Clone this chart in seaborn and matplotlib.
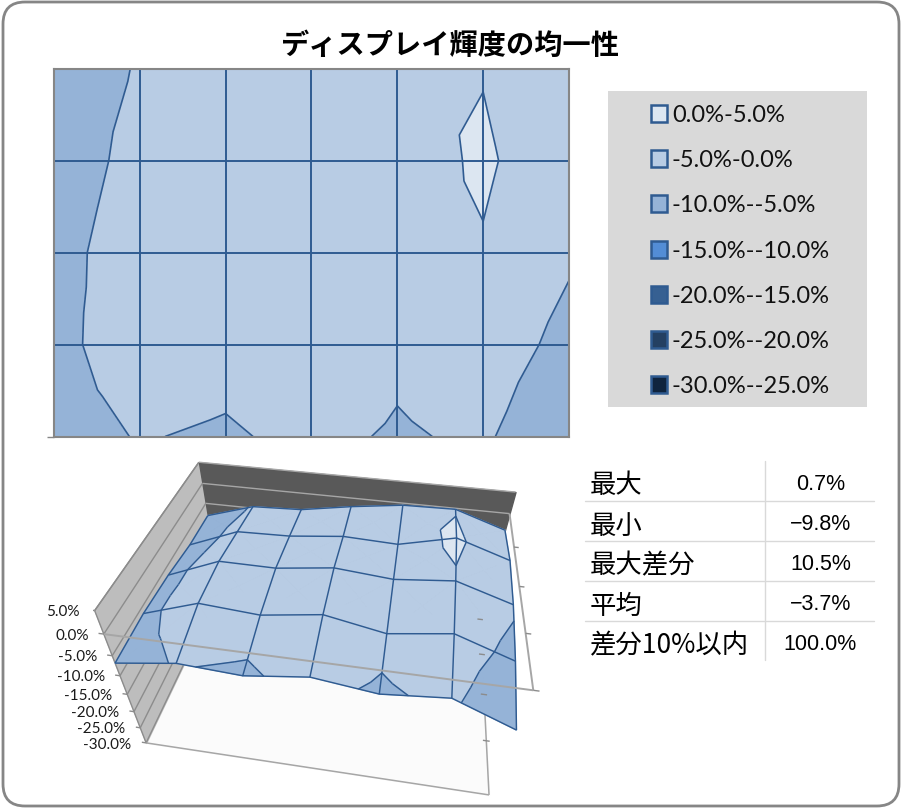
"""ディスプレイ輝度の均一性: 等高線図と3Dサーフェス."""

import matplotlib

matplotlib.use("Agg")
import matplotlib.pyplot as plt
import matplotlib.tri as mtri
import numpy as np
import seaborn as sns
from matplotlib.patches import FancyBboxPatch, Rectangle
from mpl_toolkits.mplot3d import proj3d
from mpl_toolkits.mplot3d.art3d import Line3DCollection, Poly3DCollection

TITLE = "ディスプレイ輝度の均一性"

# 輝度の偏差 (%), 上が画面の上端, 左が画面の左端
ROW_0 = [-8.2, -4.6, -4.1, -2.1, -0.5, -0.24, -4.06]
ROW_1 = [-8.0, -3.3, -3.0, -1.7, -2.2, 0.7, -3.2]
ROW_2 = [-6.9, -2.0, -2.1, -0.5, -1.6, -0.36, -4.3]
ROW_3 = [-6.4, -2.2, -3.2, -1.3, -3.9, -2.0, -6.6]
ROW_4 = [-6.8, -4.75, -5.6, -3.72, -5.55, -4.2, -9.8]

LEVELS = [-30, -25, -20, -15, -10, -5, 0, 5]
BAND_COLORS = ["#0f243e", "#244062", "#366092", "#538dd5", "#95b3d7", "#b8cce4", "#dce6f1"]
LEGEND_LABELS = [
    "0.0%-5.0%",
    "-5.0%-0.0%",
    "-10.0%--5.0%",
    "-15.0%--10.0%",
    "-20.0%--15.0%",
    "-25.0%--20.0%",
    "-30.0%--25.0%",
]
Z_TICKS = [5, 0, -5, -10, -15, -20, -25, -30]

STAT_NAMES = ["最大", "最小", "最大差分", "平均", "差分10%以内"]
STAT_VALUES = ["0.7%", "−9.8%", "10.5%", "−3.7%", "100.0%"]

LINE = "#2f5b91"
EDGE = "#a6a6a6"
W, H = 903, 812


def build_triangles(z):
    """各セルを中心点で4つの三角形に分ける (Excel の等高線と同じ折れ方になる)."""
    rows, cols = z.shape
    xs, ys, zs = [], [], []
    for r in range(rows):
        for c in range(cols):
            xs.append(c)
            ys.append(r)
            zs.append(z[r, c])
    tris = []
    for r in range(rows - 1):
        for c in range(cols - 1):
            k = len(xs)
            xs.append(c + 0.5)
            ys.append(r + 0.5)
            zs.append(z[r : r + 2, c : c + 2].mean())
            a, b = r * cols + c, r * cols + c + 1
            d, e = (r + 1) * cols + c, (r + 1) * cols + c + 1
            tris += [[a, b, k], [b, e, k], [e, d, k], [d, a, k]]
    return np.array(xs, float), np.array(ys, float), np.array(zs), np.array(tris)


def clip_poly(points, level, keep_above):
    out = []
    for i, p in enumerate(points):
        q = points[(i + 1) % len(points)]
        p_in = p[2] >= level if keep_above else p[2] <= level
        q_in = q[2] >= level if keep_above else q[2] <= level
        if p_in:
            out.append(p)
        if p_in != q_in:
            t = (level - p[2]) / (q[2] - p[2])
            out.append(p + (q - p) * t)
    return out


def level_segment(points, level):
    seg = []
    for i, p in enumerate(points):
        q = points[(i + 1) % 3]
        if (p[2] - level) * (q[2] - level) < 0:
            seg.append(p + (q - p) * (level - p[2]) / (q[2] - p[2]))
    return seg if len(seg) == 2 else None


def draw_contour(ax, z, tri, tz):
    ax.tricontourf(tri, tz, levels=LEVELS, colors=BAND_COLORS)
    ax.tricontour(tri, tz, levels=[-5, 0], colors=LINE, linewidths=1.2, linestyles="solid")
    ax.vlines(range(1, 6), 0, 4, color=LINE, lw=1.4)
    ax.hlines(range(1, 4), 0, 6, color=LINE, lw=1.4)
    ax.set_xlim(0, 6)
    ax.set_ylim(4, 0)
    ax.set_xticks([])
    ax.set_yticks([4], [""])
    ax.tick_params(axis="y", length=5, width=1, color="#868686", left=True)
    for spine in ax.spines.values():
        spine.set_color("#868686")
        spine.set_linewidth(1.5)


def add_lines(ax, segments, color, width, order):
    ax.add_collection3d(
        Line3DCollection(segments, colors=color, linewidths=width, zorder=order), autolim=False
    )


def draw_surface(ax, z, tx, ty, tz, tris):
    rows, cols = z.shape
    to3d = np.column_stack([tx, rows - 1 - ty, tz])

    # 壁と床
    x0, x1, y0, y1, zb, zt = 0, cols - 1, 0, rows - 1, -30, 5
    left = [(x0, y0, zb), (x0, y1, zb), (x0, y1, zt), (x0, y0, zt)]
    back = [(x0, y1, zb), (x1, y1, zb), (x1, y1, zt), (x0, y1, zt)]
    floor = [(x0, y0, zb), (x1, y0, zb), (x1, y1, zb), (x0, y1, zb)]
    for poly, color in ((floor, "#fbfbfb"), (left, "#bdbdbd"), (back, "#595959")):
        ax.add_collection3d(
            Poly3DCollection([poly], facecolors=color, edgecolors=color, zorder=1), autolim=False
        )

    walls = [[(x0, y0, v), (x0, y1, v)] for v in Z_TICKS]
    walls += [[(x0, y0, zb), (x0, y0, zt)], [(x0, y0, zt), (x0, y1, zt)]]
    add_lines(ax, walls, "#8c8c8c", 1.0, 2)
    add_lines(ax, [[(x0, y1, v), (x1, y1, v)] for v in Z_TICKS[:3]], "#a6a6a6", 1.0, 2)
    add_lines(ax, [[(x0, y0, zb), (x1, y0, zb)], [(x1, y0, zb), (x1, y1, zb)]], EDGE, 1.1, 2)

    # 面を帯ごとに切り分ける
    polys, colors, segs = [], [], []
    for t in tris:
        pts = [to3d[i] for i in t]
        for k, color in enumerate(BAND_COLORS):
            part = clip_poly(pts, LEVELS[k], True)
            part = clip_poly(part, LEVELS[k + 1], False) if part else part
            if len(part) >= 3:
                polys.append(part)
                colors.append(color)
        for level in LEVELS[1:-1]:
            seg = level_segment(pts, level)
            if seg:
                segs.append(seg)
    ax.add_collection3d(
        Poly3DCollection(polys, facecolors=colors, edgecolors=colors, linewidths=0.8, zorder=3),
        autolim=False,
    )

    grid = []
    for r in range(rows):
        grid.append([(c, rows - 1 - r, z[r, c]) for c in range(cols)])
    for c in range(cols):
        grid.append([(c, rows - 1 - r, z[r, c]) for r in range(rows)])
    add_lines(ax, grid, LINE, 1.05, 4)
    add_lines(ax, segs, LINE, 1.05, 4)

    # 0% の枠線と目盛
    add_lines(ax, [[(x0, y0, 0), (x1, y0, 0)], [(x1, y0, 0), (x1, y1, 0)]], EDGE, 1.4, 5)
    ticks = [[(x1, y, 0), (x1 + 0.08, y, 0)] for y in range(0, 4)]
    ticks += [[(x1 - 0.06, y, zb), (x1 + 0.06, y, zb)] for y in range(1, 5)]
    ticks += [[(x0 - 0.08, y0, v), (x0, y0, v)] for v in Z_TICKS]
    add_lines(ax, ticks, "#8c8c8c", 1.0, 5)

    ax.set_xlim(x0, x1, view_margin=0)
    ax.set_ylim(y0, y1, view_margin=0)
    ax.set_zlim(zb, zt, view_margin=0)
    ax.viewLim.intervalx = (-0.1, 0.1)
    ax.viewLim.intervaly = (-0.1, 0.1)

    # 目盛ラベルは投影後の位置に置く
    proj = ax.get_proj()
    for v in Z_TICKS:
        px, py, _ = proj3d.proj_transform(x0, y0, v, proj)
        ax.annotate(
            f"{v:.1f}%", xy=(px, py), xytext=(-11, -0.5), textcoords="offset points",
            ha="right", va="center", fontsize=11, family=["Lato", "DejaVu Sans"],
            color="#1a1a1a", zorder=6,
        )


def draw_overlay(ax):
    ax.set_xlim(0, W)
    ax.set_ylim(H, 0)
    ax.axis("off")
    ax.add_patch(
        FancyBboxPatch(
            (3, 3), 896, 804, boxstyle="round,pad=0,rounding_size=22",
            facecolor="white", edgecolor="#868686", linewidth=2.0,
        )
    )
    ax.text(450, 46, TITLE, ha="center", va="center", fontsize=20.3, fontweight="bold", color="black")

    # 凡例
    ax.add_patch(Rectangle((608, 92), 259, 316, facecolor="#d9d9d9", edgecolor="none"))
    for i, label in enumerate(LEGEND_LABELS):
        y = 114.5 + i * 45.2
        ax.add_patch(
            Rectangle((651, y - 8.5), 16, 17, facecolor=BAND_COLORS[-1 - i], edgecolor=LINE, linewidth=1.8)
        )
        ax.text(672, y + 1, label, ha="left", va="center", fontsize=17, family=["Lato", "DejaVu Sans"], color="#111111")

    # 統計の表
    for y in (501.5, 541.5, 581.5, 621.5):
        ax.plot([585, 874], [y, y], color="#d9d9d9", lw=1)
    ax.plot([765, 765], [462, 661], color="#d9d9d9", lw=1)
    for i, (name, value) in enumerate(zip(STAT_NAMES, STAT_VALUES)):
        y = 484 + i * 40
        ax.text(590, y + 2, name, ha="left", va="center", fontsize=19, color="black")
        ax.text(820.5, y + 1, value, ha="center", va="center", fontsize=15.5, color="black",
                family=["Liberation Sans", "Noto Sans CJK JP"])


sns.set_theme(style="white")
plt.rcParams["font.family"] = ["Noto Sans CJK JP", "DejaVu Sans"]

Z = np.array([ROW_0, ROW_1, ROW_2, ROW_3, ROW_4])
tx, ty, tz, tris = build_triangles(Z)
tri = mtri.Triangulation(tx, ty, tris)

fig = plt.figure(figsize=(W / 100, H / 100), dpi=100, facecolor="white")

ax_bg = fig.add_axes([0, 0, 1, 1], zorder=0)
draw_overlay(ax_bg)

ax_top = fig.add_axes([54 / W, 1 - 437.5 / H, 515 / W, 368 / H], zorder=1)
draw_contour(ax_top, Z, tri, tz)

# 3D 軸: 元画像の消失点から求めたカメラ
SIDE = 480
CENTER = (333, 617)
FOCAL_PX = 547
focal = FOCAL_PX * 0.2 / SIDE
ax3d = fig.add_axes(
    [(CENTER[0] - SIDE / 2) / W, 1 - (CENTER[1] + SIDE / 2) / H, SIDE / W, SIDE / H],
    projection="3d", computed_zorder=False, zorder=2,
)
ax3d.patch.set_visible(False)
ax3d.set_axis_off()
ax3d.view_init(elev=43.5, azim=-81.7, roll=-1.2)
ax3d.set_proj_type("persp", focal_length=focal)
# カメラ距離は 10 * focal, 箱の大きさは箱中心までの距離 683 に対する比
box = np.array([416.0, 297.0, 223.0]) * 10 * focal / 683
ax3d.set_box_aspect(box, zoom=np.linalg.norm(box) / (1.8294640721620434 * 25 / 24))
draw_surface(ax3d, Z, tx, ty, tz, tris)

fig.savefig("out.png", dpi=100)
